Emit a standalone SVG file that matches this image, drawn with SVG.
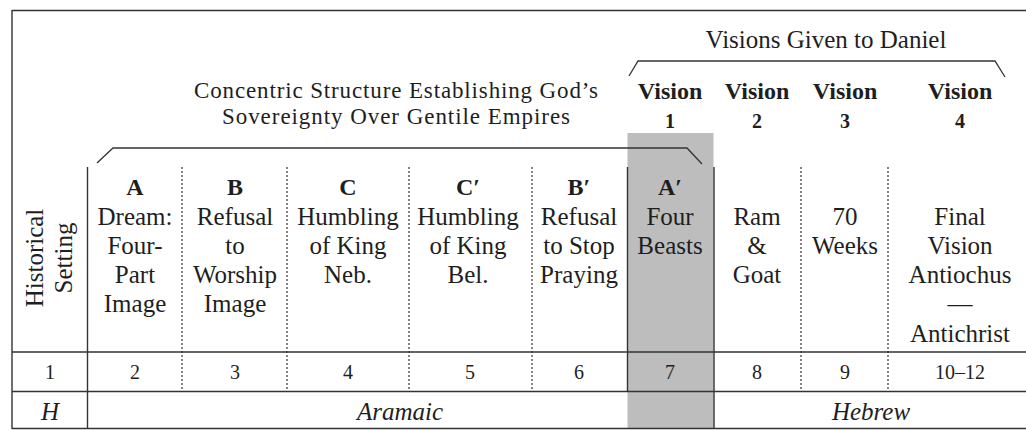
<svg xmlns="http://www.w3.org/2000/svg" width="1026" height="430" viewBox="0 0 1026 430">
<style>
text{font-family:"Liberation Serif","Times New Roman",serif;fill:#1e1e1e;text-anchor:middle}
.b{font-size:25px}
.t{font-size:23px}
.h{font-size:24px;font-weight:bold}
.n{font-size:20px}
.vn{font-size:20px;font-weight:bold}
.i{font-size:25px;font-style:italic}
.solid{stroke:#333;stroke-width:1.4;fill:none}
.dash{stroke:#333;stroke-width:1.2;stroke-dasharray:2 2;fill:none}
.br{stroke:#333;stroke-width:1.3;fill:none}
</style>
<rect x="0" y="0" width="1026" height="430" fill="#fff"/>
<rect id="highlight" x="627.5" y="133" width="86" height="295.5" fill="#bdbdbd"/>
<g id="grid">
<path class="solid" d="M12,10.5H1026M12,10V429M12,428.5H1026M12,352H1026M12,391.5H1026"/>
<path class="solid" d="M87.5,167V429M627.5,167V391.5M714,167V429"/>
<path class="dash" d="M182,167V391M287,167V391M409,167V391M532,167V391M801,167V391M888,167V391"/>
</g>
<g id="connectors">
<path class="br" d="M97,163L113,148H687L702,164"/>
<path class="br" d="M629,76L638,61H995L1005,77"/>
</g>
<g id="title-concentric">
<text class="t" x="396" y="97.5" textLength="404" lengthAdjust="spacing">Concentric Structure Establishing God’s</text>
<text class="t" x="396" y="123.5" textLength="348" lengthAdjust="spacing">Sovereignty Over Gentile Empires</text>
</g>
<g id="title-visions">
<text class="b" x="826" y="48">Visions Given to Daniel</text>
</g>
<g id="col-historical">
<text class="b" transform="translate(43,258) rotate(-90)">Historical</text>
<text class="b" transform="translate(72,258) rotate(-90)">Setting</text>
<text class="n" x="50" y="379">1</text>
<text class="i" x="50" y="420">H</text>
</g>
<g id="col-A">
<text class="h" x="135" y="195">A</text>
<text class="b" x="135" y="225">Dream:</text>
<text class="b" x="135" y="254">Four-</text>
<text class="b" x="135" y="283">Part</text>
<text class="b" x="135" y="312">Image</text>
<text class="n" x="135" y="379">2</text>
</g>
<g id="col-B">
<text class="h" x="235" y="195">B</text>
<text class="b" x="235" y="225">Refusal</text>
<text class="b" x="235" y="254">to</text>
<text class="b" x="235" y="283">Worship</text>
<text class="b" x="235" y="312">Image</text>
<text class="n" x="235" y="379">3</text>
</g>
<g id="col-C">
<text class="h" x="348" y="195">C</text>
<text class="b" x="348" y="225">Humbling</text>
<text class="b" x="348" y="254">of King</text>
<text class="b" x="348" y="283">Neb.</text>
<text class="n" x="348" y="379">4</text>
</g>
<g id="col-C2">
<text class="h" x="468" y="195">C′</text>
<text class="b" x="468" y="225">Humbling</text>
<text class="b" x="468" y="254">of King</text>
<text class="b" x="468" y="283">Bel.</text>
<text class="n" x="470" y="379">5</text>
</g>
<g id="col-B2">
<text class="h" x="579" y="195">B′</text>
<text class="b" x="579" y="225">Refusal</text>
<text class="b" x="579" y="254">to Stop</text>
<text class="b" x="579" y="283">Praying</text>
<text class="n" x="579" y="379">6</text>
</g>
<g id="col-A2">
<text class="h" x="670" y="99">Vision</text>
<text class="vn" x="670" y="128">1</text>
<text class="h" x="670" y="195">A′</text>
<text class="b" x="670" y="225">Four</text>
<text class="b" x="670" y="254">Beasts</text>
<text class="n" x="670" y="379">7</text>
</g>
<g id="col-vision2">
<text class="h" x="757" y="99">Vision</text>
<text class="vn" x="757" y="128">2</text>
<text class="b" x="757" y="225">Ram</text>
<text class="b" x="757" y="254">&amp;</text>
<text class="b" x="757" y="283">Goat</text>
<text class="n" x="757" y="379">8</text>
</g>
<g id="col-vision3">
<text class="h" x="845" y="99">Vision</text>
<text class="vn" x="845" y="128">3</text>
<text class="b" x="845" y="225">70</text>
<text class="b" x="845" y="254">Weeks</text>
<text class="n" x="845" y="379">9</text>
</g>
<g id="col-vision4">
<text class="h" x="960" y="99">Vision</text>
<text class="vn" x="960" y="128">4</text>
<text class="b" x="960" y="225">Final</text>
<text class="b" x="960" y="254">Vision</text>
<text class="b" x="960" y="283">Antiochus</text>
<text class="b" x="960" y="312">—</text>
<text class="b" x="960" y="342">Antichrist</text>
<text class="n" x="960" y="379">10–12</text>
</g>
<g id="languages">
<text class="i" x="400" y="420">Aramaic</text>
<text class="i" x="871" y="420">Hebrew</text>
</g>
</svg>
